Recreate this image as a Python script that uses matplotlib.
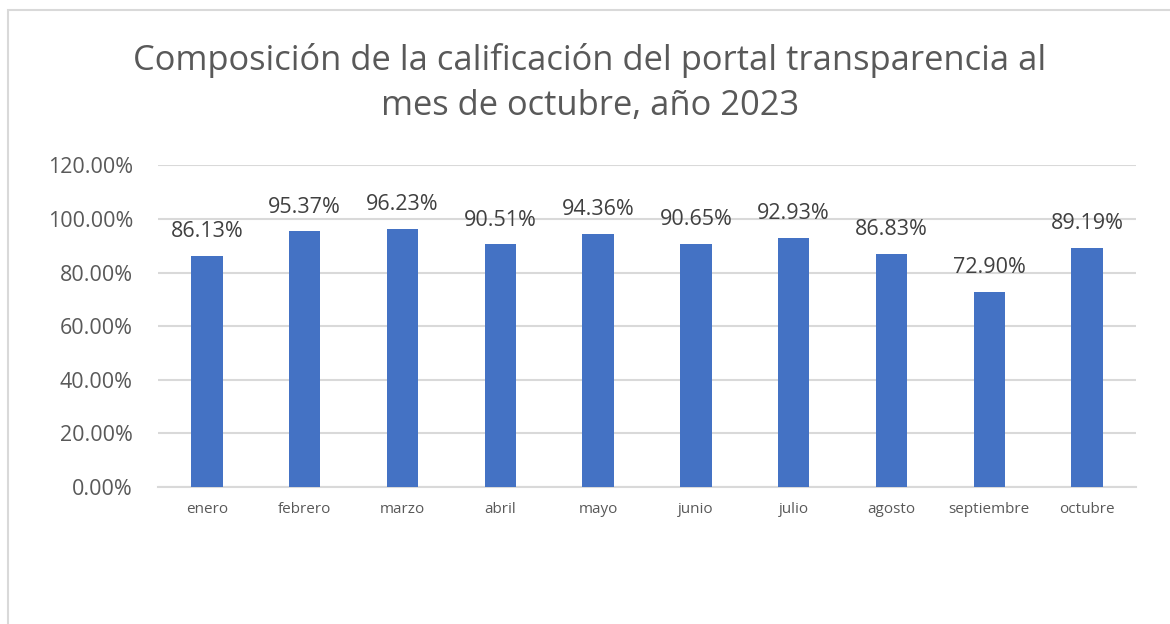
import matplotlib
matplotlib.use("Agg")
import matplotlib.pyplot as plt
from matplotlib.ticker import FuncFormatter
from matplotlib.patches import Rectangle

plt.rcParams["font.family"] = ["Open Sans", "DejaVu Sans"]

meses = ["enero", "febrero", "marzo", "abril", "mayo",
         "junio", "julio", "agosto", "septiembre", "octubre"]
calificacion = [86.13, 95.37, 96.23, 90.51, 94.36,
                90.65, 92.93, 86.83, 72.90, 89.19]

fig = plt.figure(figsize=(11.7, 6.24), dpi=100)

# chart border (open at the right and bottom, as in the screenshot)
fig.patches.append(Rectangle((8 / 1170, -0.1), 1.2, 1.1 - 10 / 624,
                             transform=fig.transFigure, fill=False,
                             edgecolor="#d9d9d9", linewidth=1.5))

ax = fig.add_axes([158 / 1170, 1 - 487 / 624, (1136 - 158) / 1170, (487 - 165.4) / 624])

x = range(len(meses))
bars = ax.bar(x, calificacion, width=0.32, color="#4472C4", zorder=3)

for b, v in zip(bars, calificacion):
    ax.annotate(f"{v:.2f}%", (b.get_x() + b.get_width() / 2, v),
                xytext=(0, 10), textcoords="offset points",
                ha="center", va="bottom", fontsize=15.5, color="#404040")

ax.set_xlim(-0.5, len(meses) - 0.5)
ax.set_ylim(0, 120)
ax.set_yticks(range(0, 121, 20))
ax.yaxis.set_major_formatter(FuncFormatter(lambda v, p: f"{v:.2f}%"))
ax.set_xticks(list(x))
ax.set_xticklabels(meses, fontsize=11, color="#595959")
ax.tick_params(axis="y", labelsize=15.5, labelcolor="#595959", length=0, pad=18)
ax.tick_params(axis="x", length=0, pad=11)

ax.grid(axis="y", color="#d9d9d9", linewidth=1.5, zorder=0)
for s in ["top", "right", "left"]:
    ax.spines[s].set_visible(False)
ax.spines["bottom"].set_color("#d9d9d9")
ax.spines["bottom"].set_linewidth(1.5)

fig.text(590 / 1170, 1 - 83 / 624,
         "Composición de la calificación del portal transparencia al\nmes de octubre, año 2023",
         ha="center", va="center", fontsize=24.8, color="#595959", linespacing=1.45)

fig.savefig("out.png", dpi=100)
